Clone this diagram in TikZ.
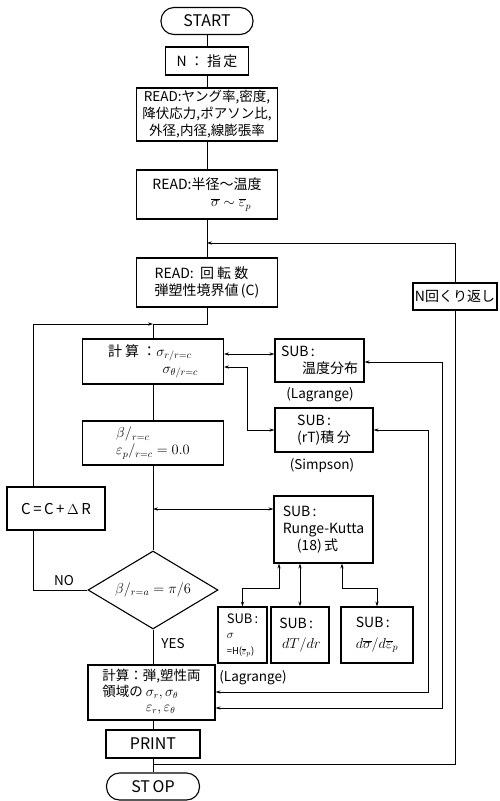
\documentclass[tikz,border=0pt]{standalone}
\usepackage{fontspec}
\setmainfont{Noto Sans CJK JP}
\usetikzlibrary{arrows.meta,shapes.geometric,calc}
\begin{document}
\begin{tikzpicture}[x=1pt,y=-1pt,
  every node/.style={font=\fontsize{14}{17}\selectfont},
  box/.style={draw,line width=1.1pt,inner sep=0pt,align=left},
  term/.style={draw,line width=1.1pt,rounded corners=13pt,inner sep=0pt,font=\fontsize{16}{18}\selectfont},
  lbl/.style={inner sep=0pt,font=\fontsize{13.5}{16}\selectfont},
  conn/.style={line width=0.6pt},
  >={Stealth[length=5pt,width=3.2pt]}]
\path[use as bounding box] (0,0) rectangle (500,801);
% helper coordinates
\coordinate (bx) at (153,0);
\coordinate (cx) at (33,0);
\coordinate (x247) at (247,0);
\coordinate (x279) at (279,0);
\coordinate (x342) at (342,0);
\coordinate (x428) at (428,0);
\coordinate (x442) at (442,0);
\coordinate (h354) at (0,354);
\coordinate (h362) at (0,362);
\coordinate (h367) at (0,367);
\coordinate (h509) at (0,509);
\coordinate (h588) at (0,588);
\coordinate (h692) at (0,692);
\coordinate (h708) at (0,708);
% nodes
\node[term,minimum width=92pt,minimum height=27pt] (start) at (207,21) {START};
\node[box,minimum width=83pt,minimum height=28pt,align=center] (nn) at (207,61) {N\ ：\ 指\,定};
\node[box,minimum width=141pt,minimum height=53pt,align=center,font=\fontsize{13.5}{17}\selectfont] (r1) at (207,114.5) {READ:ヤング率,密度,\\降伏応力,ポアソン比,\\外径,内径,線膨張率};
\node[box,minimum width=141pt,minimum height=49pt] (r2) at (207,194.5) {READ:半径～温度\\\hspace*{4.2em}$\overline{\sigma}\sim\overline{\varepsilon}_p$};
\node[box,minimum width=141pt,minimum height=49pt] (r3) at (207,282.5) {READ:\ \ 回\ 転\ 数\\弾塑性境界値\,(C)};
\node[box,minimum width=84pt,minimum height=27pt,align=center] (nrep) at (455,296.5) {N回くり返し};
\node[box,minimum width=141pt,minimum height=45pt] (c1) at (153,361.5) {計\ 算\ ：$\sigma_{r/r=c}$\\\hspace*{3.9em}$\sigma_{\theta/r=c}$};
\node[box,minimum width=89pt,minimum height=43pt] (st) at (319.5,360.5) {SUB\,:\\\hspace*{1.5em}温度分布};
\node[lbl] (lg1) at (320,395) {(Lagrange)};
\node[box,minimum width=98pt,minimum height=44pt] (srt) at (324,430) {SUB\,:\\(rT)積\,分};
\node[lbl] (simp) at (322,466) {(Simpson)};
\node[box,minimum width=141pt,minimum height=44pt] (beta) at (153,443) {$\beta/_{r=c}$\\$\varepsilon_p/_{r=c}=0.0$};
\node[box,minimum width=98pt,minimum height=43pt,align=center,font=\fontsize{15}{18}\selectfont] (cc) at (56,508.5) {C\,=\,C\,+\,$\Delta$\,R};
\node[box,minimum width=99pt,minimum height=67pt] (rk) at (323.5,529.5) {SUB\,:\\Runge-Kutta\\\hspace*{1em}(18)\,式};
\node[draw,diamond,aspect=1.67,line width=1.1pt,inner sep=0pt,minimum width=130pt,minimum height=78pt] (dia) at (153,590) {$\beta/_{r=a}=\pi/6$};
\node[box,minimum width=49pt,minimum height=56pt,font=\fontsize{13}{15}\selectfont] (sh) at (242.5,635) {SUB\,:\\$\sigma$\\[1pt]{\fontsize{9.5}{11}\selectfont =H($\overline{\varepsilon}_p$)}};
\node[lbl] (lg2) at (253,678) {(Lagrange)};
\node[box,minimum width=58pt,minimum height=56pt] (sdt) at (300,635) {SUB\,:\\[3pt]\hspace*{0.2em}$dT/dr$};
\node[box,minimum width=72pt,minimum height=56pt] (sds) at (377,635) {SUB\,:\\[4pt]$d\overline{\sigma}/d\overline{\varepsilon}_p$};
\node[box,minimum width=127pt,minimum height=55pt,font=\fontsize{13.5}{15.5}\selectfont] (c2) at (151.5,692.5) {\begin{tabular}{@{}l@{\ }l@{}}\multicolumn{2}{@{}l@{}}{計算：弾,塑性両}\\領域の&$\sigma_r,\sigma_\theta$\\&$\varepsilon_r,\varepsilon_\theta$\end{tabular}};
\node[box,minimum width=94pt,minimum height=28pt,align=center,font=\fontsize{16}{18}\selectfont] (pr) at (153,744) {PRINT};
\node[term,minimum width=93pt,minimum height=27pt] (stop) at (153,786.5) {ST\,OP};
\node[lbl] (no) at (64,581) {NO};
\node[lbl] (yes) at (173,644) {YES};
% connectors
\coordinate (loopin) at (207,243);
\coordinate (j1) at (153,324);
\coordinate (nb) at (153,764);
\draw[conn] (start) -- (nn);
\draw[conn] (nn) -- (r1);
\draw[conn] (r1) -- (r2);
\draw[conn] (r2) -- (r3);
\draw[conn,->] (nrep.north) |- (loopin);
\draw[conn] (nrep.south) |- (nb);
\draw[conn] (r3.south) |- (j1) -- (c1.north);
\draw[conn,->] (cx |- cc.north) |- (j1);
\draw[conn] (dia.west) -| (cx |- cc.south);
\draw[conn] (c1) -- (beta);
\draw[conn] (beta) -- (dia);
\draw[conn] (dia.south) -- (bx |- c2.north);
\draw[conn] (bx |- c2.south) -- (pr.north);
\draw[conn] (pr) -- (stop);
\draw[conn,<->] (c1.east |- h354) -- (st.west |- h354);
\draw[conn,<->] (c1.east |- h367) -| (x247 |- srt.west) -- (srt.west);
\draw[conn,<->] (bx |- h509) -- (rk.west |- h509);
\draw[conn,<->] (srt.east) -| (x428 |- h692) -- (c2.east |- h692);
\draw[conn,<->] (st.east |- h362) -| (x442 |- h708) -- (c2.east |- h708);
\draw[conn,<->] (x279 |- rk.south) -- (x279 |- h588) -| (sh.north);
\draw[conn,<->] (rk.south -| sdt.north) -- (sdt.north);
\draw[conn,<->] (x342 |- rk.south) -- (x342 |- h588) -| (sds.north);
\end{tikzpicture}
\end{document}
